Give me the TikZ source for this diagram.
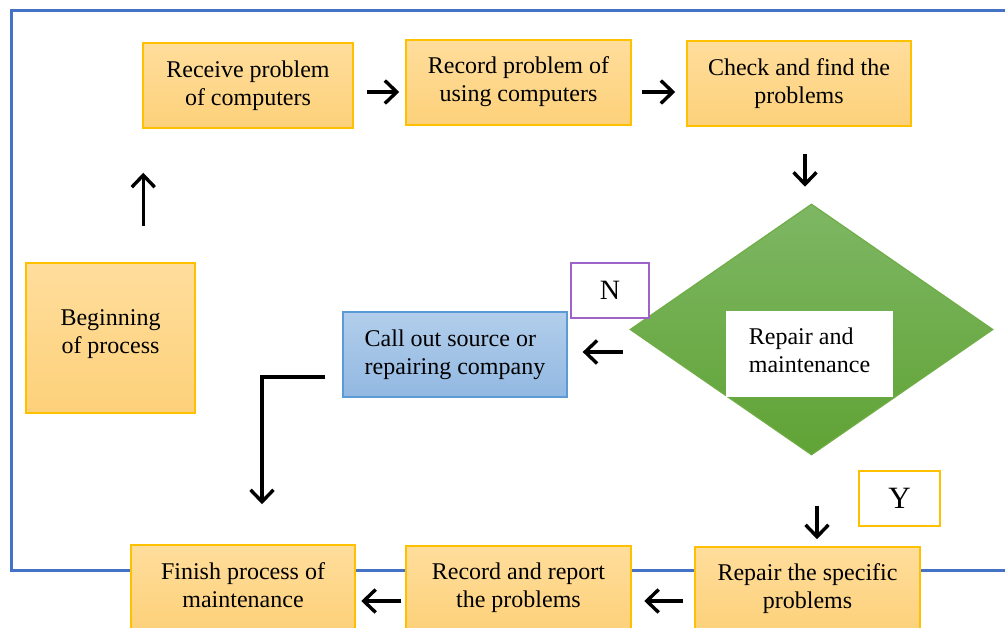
\documentclass[tikz,border=0pt]{standalone}
\usepackage{fontspec}
\setmainfont{Liberation Serif}
\usetikzlibrary{shapes.geometric,arrows.meta,shadings}
\definecolor{ortop}{HTML}{FFDD9C}
\definecolor{orbot}{HTML}{FDD17A}
\definecolor{orline}{HTML}{FFC000}
\definecolor{bltop}{HTML}{B2CEEB}
\definecolor{blbot}{HTML}{92B8E2}
\definecolor{blline}{HTML}{5B9BD5}
\definecolor{grtop}{HTML}{7EB764}
\definecolor{grbot}{HTML}{60A335}
\definecolor{grline}{HTML}{70AD47}
\definecolor{frame}{HTML}{4472C4}
\definecolor{purp}{HTML}{9E63C9}
\tikzset{
  txt/.style={font=\fontsize{24}{28}\selectfont, align=center, inner sep=0pt},
  obox/.style={txt, draw=orline, line width=1.5pt, top color=ortop, bottom color=orbot},
  bbox/.style={txt, align=left, draw=blline, line width=1.3pt, top color=bltop, bottom color=blbot},
  lbox/.style={txt, fill=white, line width=1.4pt},
  arr/.style={line width=3.4pt, -{Straight Barb[length=12pt,width=23pt]}},
}
\begin{document}
\begin{tikzpicture}[x=1pt,y=-1pt]
\clip (0,0) rectangle (1005,628);
\fill[white] (0,0) rectangle (1005,628);
% frame
\draw[frame, line width=3pt] (11,11) rectangle (1015,570);
% top row
\node[obox, minimum width=210, minimum height=85] (rec) at (248,85.5) {Receive problem\\of computers};
\node[obox, minimum width=225, minimum height=85] (rec2) at (518.5,82.5) {Record problem of\\using computers\rule[-6pt]{0pt}{0pt}};
\node[obox, minimum width=224, minimum height=85] (chk) at (799,83.5) {Check and find the\\problems};
% left
\node[obox, minimum width=169, minimum height=150] (beg) at (110.5,338) {Beginning\\of process\rule[-12pt]{0pt}{0pt}};
% call out
\node[bbox, minimum width=224, minimum height=85] (call) at (455,354.5) {Call out source or\\repairing company};
% diamond
\node[diamond, draw=grline, line width=1.2pt, top color=grtop, bottom color=grbot,
      minimum width=363, minimum height=251, inner sep=0pt, aspect=1.446] (dia) at (811.5,329.5) {};
\node[lbox, align=left, minimum width=167, minimum height=86] (wr) at (809.5,354) {Repair and\\maintenance\rule[-8pt]{0pt}{0pt}};
% labels
\node[lbox, draw=purp, minimum width=78, minimum height=55, font=\fontsize{28}{32}\selectfont] (nlab) at (610,290.5) {N};
\node[lbox, draw=orline, minimum width=81, minimum height=55, font=\fontsize{31}{34}\selectfont] (ylab) at (899.5,498.5) {Y};
% bottom row
\node[obox, minimum width=224, minimum height=84] (fin) at (243,587) {Finish process of\\maintenance\rule[-4pt]{0pt}{0pt}};
\node[obox, minimum width=225, minimum height=84] (rr) at (518.5,588) {Record and report\\the problems\rule[-4pt]{0pt}{0pt}};
\node[obox, minimum width=225, minimum height=84] (rsp) at (807.5,589) {Repair the specific\\problems\rule[-4pt]{0pt}{0pt}};
% arrows
\draw[arr] ([shift={(1,97)}]rec.south west) -- ([shift={(1,44)}]rec.south west);
\draw[arr] ([shift={(13,6.5)}]rec.east) -- ([shift={(-6,9.5)}]rec2.west);
\draw[arr] ([shift={(10,9.5)}]rec2.east) -- ([shift={(-11,8.5)}]chk.west);
\draw[arr] ([shift={(6,27)}]chk.south) -- ([shift={(6,60)}]chk.south);
\draw[arr] ([shift={(55,-2.5)}]call.east) -- ([shift={(15,-2.5)}]call.east);
\draw[arr] ([shift={(-17,22.5)}]call.west) -| ([shift={(19,-40)}]fin.north);
\draw[arr] ([shift={(9.5,-40)}]rsp.north) -- ([shift={(9.5,-7)}]rsp.north);
\draw[arr] ([shift={(-11,12)}]rsp.west) -- ([shift={(-50,12)}]rsp.west);
\draw[arr] ([shift={(-4,13)}]rr.west) -- ([shift={(-44,13)}]rr.west);
\end{tikzpicture}
\end{document}
